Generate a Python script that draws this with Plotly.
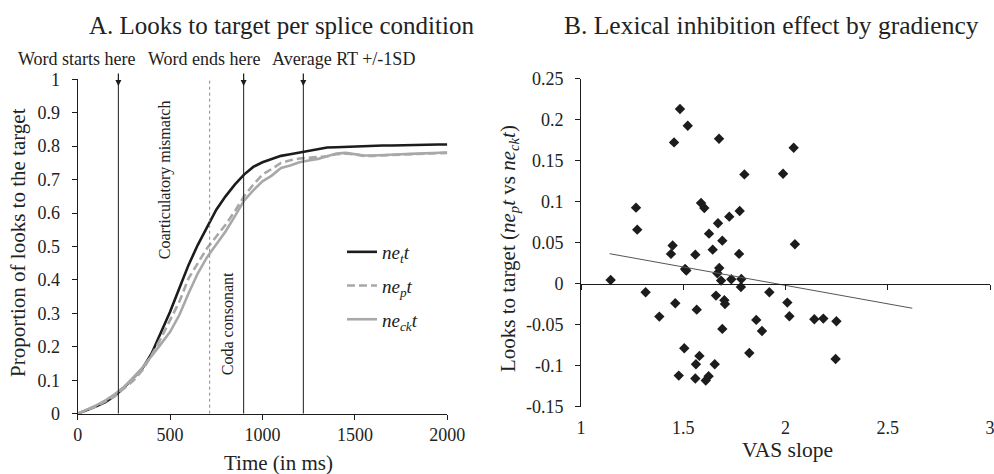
import plotly.graph_objects as go

# ---------------- data: panel A ----------------
time_ms = list(range(0, 2001, 50))
net = [0.000, 0.010, 0.022, 0.035, 0.053, 0.078, 0.105, 0.135, 0.180, 0.240,
       0.305, 0.375, 0.445, 0.505, 0.560, 0.610, 0.650, 0.685, 0.715, 0.738,
       0.752, 0.762, 0.771, 0.776, 0.781, 0.786, 0.792, 0.796, 0.797, 0.798,
       0.799, 0.801, 0.803, 0.802, 0.802, 0.803, 0.803, 0.804, 0.804, 0.805, 0.805]
nep = [0.000, 0.010, 0.022, 0.037, 0.052, 0.075, 0.098, 0.130, 0.175, 0.225,
       0.280, 0.335, 0.405, 0.450, 0.495, 0.530, 0.565, 0.605, 0.650, 0.685,
       0.715, 0.732, 0.750, 0.758, 0.763, 0.765, 0.767, 0.770, 0.776, 0.778,
       0.775, 0.771, 0.771, 0.773, 0.774, 0.775, 0.776, 0.777, 0.778, 0.779, 0.780]
neck = [0.000, 0.012, 0.025, 0.040, 0.058, 0.080, 0.107, 0.138, 0.172, 0.208,
        0.245, 0.295, 0.360, 0.420, 0.468, 0.505, 0.545, 0.590, 0.637, 0.668,
        0.695, 0.712, 0.735, 0.742, 0.752, 0.757, 0.762, 0.770, 0.778, 0.780,
        0.776, 0.772, 0.772, 0.774, 0.775, 0.776, 0.777, 0.778, 0.779, 0.780, 0.781]
series_names = ["<i>ne<sub>t</sub>t</i>", "<i>ne<sub>p</sub>t</i>", "<i>ne<sub>ck</sub>t</i>"]
event_times = [220, 898, 1221]
event_labels = ["Word starts here", "Word ends here", "Average RT +/-1SD"]
coda_onset = 714
left_xticks = [0, 500, 1000, 1500, 2000]
left_yticks = [0, 0.1, 0.2, 0.3, 0.4, 0.5, 0.6, 0.7, 0.8, 0.9, 1]

# ---------------- data: panel B ----------------
vas_slope = [1.484, 1.522, 1.455, 1.675, 2.040, 1.799, 1.988, 1.269, 1.587, 1.603,
             1.776, 1.725, 1.670, 1.275, 1.626, 1.691, 2.046, 1.448, 1.440, 1.559,
             1.644, 1.773, 1.145, 1.509, 1.515, 1.676, 1.667, 1.685, 1.735, 1.784,
             1.782, 1.316, 1.921, 1.660, 1.701, 1.704, 1.461, 2.009, 1.566, 1.383,
             2.019, 1.857, 2.141, 2.185, 2.249, 1.885, 1.691, 1.505, 1.823, 1.579,
             1.562, 1.654, 2.245, 1.478, 1.559, 1.610, 1.624]
looks_effect = [0.2128, 0.1924, 0.1721, 0.1766, 0.1656, 0.1331, 0.1340, 0.0926, 0.0983, 0.0922,
                0.0885, 0.0816, 0.0735, 0.0658, 0.0609, 0.0524, 0.0480, 0.0465, 0.0362, 0.0353,
                0.0414, 0.0362, 0.0045, 0.0179, 0.0160, 0.0191, 0.0126, 0.0037, 0.0053, 0.0057,
                -0.0041, -0.0106, -0.0106, -0.0146, -0.0203, -0.0248, -0.0240, -0.0231, -0.0317, -0.0402,
                -0.0398, -0.0442, -0.0434, -0.0426, -0.0459, -0.0577, -0.0552, -0.0788, -0.0845, -0.0881,
                -0.0982, -0.0982, -0.0918, -0.1121, -0.1157, -0.1181, -0.1129]
trend_x = [1.14, 2.62]
trend_y = [0.0365, -0.030]
right_xticks = [1, 1.5, 2, 2.5, 3]
right_ytick_vals = [-0.15, -0.1, -0.05, 0, 0.05, 0.1, 0.15, 0.2, 0.25]
right_ytick_text = ["-0.15", "-0.1", "-0.05", "0", "0.05", "0.1", "0.15", "0.2", "0.25"]

W, H = 994, 474
def px(x):
    return x / W
def py(y):
    return 1 - y / H

FONT = "Liberation Serif"
TXT = "#222222"
BLACK = "#1c1c1c"
GREY = "#a8a8a8"

fig = go.Figure()

# Panel A curves
fig.add_trace(go.Scatter(x=time_ms, y=net, mode="lines", name=series_names[0],
                         line=dict(color=BLACK, width=2.6), legendgroup="a",
                         xaxis="x", yaxis="y"))
fig.add_trace(go.Scatter(x=time_ms, y=nep, mode="lines", name=series_names[1],
                         line=dict(color=GREY, width=2.6, dash="8px,4px"), legendgroup="b",
                         xaxis="x", yaxis="y"))
fig.add_trace(go.Scatter(x=time_ms, y=neck, mode="lines", name=series_names[2],
                         line=dict(color=GREY, width=2.6), legendgroup="c",
                         xaxis="x", yaxis="y"))

# Panel B scatter + trend
fig.add_trace(go.Scatter(x=vas_slope, y=looks_effect, mode="markers", showlegend=False,
                         marker=dict(symbol="diamond", size=8, color=BLACK),
                         xaxis="x2", yaxis="y2"))
fig.add_trace(go.Scatter(x=trend_x, y=trend_y, mode="lines", showlegend=False,
                         line=dict(color="#555555", width=1),
                         xaxis="x3", yaxis="y2"))

shapes = []
for t in event_times:
    shapes.append(dict(type="line", xref="x", yref="y", x0=t, x1=t, y0=0, y1=1,
                       line=dict(color=BLACK, width=1)))
shapes.append(dict(type="line", xref="x", yref="y", x0=coda_onset, x1=coda_onset, y0=0, y1=1,
                   line=dict(color="#888888", width=1, dash="dot")))

annotations = []
# Titles
annotations.append(dict(text="A. Looks to target per splice condition", xref="paper", yref="paper",
                        x=px(281), y=py(25), showarrow=False, xanchor="center", yanchor="middle",
                        font=dict(family=FONT, size=25, color=TXT)))
annotations.append(dict(text="B. Lexical inhibition effect by gradiency", xref="paper", yref="paper",
                        x=px(771), y=py(25), showarrow=False, xanchor="center", yanchor="middle",
                        font=dict(family=FONT, size=25.5, color=TXT)))
# event label row
label_x = [77, 204, 343]
for lab, lx in zip(event_labels, label_x):
    annotations.append(dict(text=lab, xref="paper", yref="paper", x=px(lx), y=py(59),
                            showarrow=False, xanchor="center", yanchor="middle",
                            font=dict(family=FONT, size=18, color=TXT)))
# arrows
for t in event_times:
    annotations.append(dict(text="", xref="x", yref="y", x=t, y=0.98, ax=0, ay=-14,
                            showarrow=True, arrowhead=2, arrowsize=1, arrowwidth=1.2,
                            arrowcolor=BLACK))
# in-plot texts
annotations.append(dict(text="Coarticulatory mismatch", xref="x", yref="y", x=470, y=0.70,
                        textangle=-90, showarrow=False, xanchor="center", yanchor="middle",
                        font=dict(family=FONT, size=16, color=TXT)))
annotations.append(dict(text="Coda consonant", xref="x", yref="y", x=812, y=0.27,
                        textangle=-90, showarrow=False, xanchor="center", yanchor="middle",
                        font=dict(family=FONT, size=16, color=TXT)))
# axis titles
annotations.append(dict(text="Proportion of looks to the target", xref="paper", yref="paper",
                        x=px(18), y=py(243), textangle=-90, showarrow=False,
                        xanchor="center", yanchor="middle", font=dict(family=FONT, size=21, color=TXT)))
annotations.append(dict(text="Time (in ms)", xref="paper", yref="paper",
                        x=px(278), y=py(463), showarrow=False,
                        xanchor="center", yanchor="middle", font=dict(family=FONT, size=21, color=TXT)))
annotations.append(dict(text="Looks to target (<i>ne<sub>p</sub>t</i> vs <i>ne<sub>ck</sub>t</i>)",
                        xref="paper", yref="paper", x=px(509), y=py(248), textangle=-90,
                        showarrow=False, xanchor="center", yanchor="middle",
                        font=dict(family=FONT, size=21, color=TXT)))
annotations.append(dict(text="VAS slope", xref="paper", yref="paper",
                        x=px(787), y=py(450), showarrow=False,
                        xanchor="center", yanchor="middle", font=dict(family=FONT, size=21.5, color=TXT)))

tickfont = dict(family=FONT, size=18, color=TXT)
yb0, yb1 = py(406.7), py(78.5)
zero_pos = yb0 + (0 - (-0.15)) / 0.4 * (yb1 - yb0)

fig.update_layout(
    width=W, height=H,
    margin=dict(l=0, r=0, t=0, b=0, pad=0, autoexpand=False),
    paper_bgcolor="white", plot_bgcolor="white",
    font=dict(family=FONT, color=TXT),
    showlegend=True,
    legend=dict(x=px(342), y=py(233), xanchor="left", yanchor="top",
                bgcolor="rgba(0,0,0,0)", font=dict(family=FONT, size=19, color=TXT),
                tracegroupgap=6, itemwidth=30),
    xaxis=dict(domain=[px(77.7), px(447.3)], range=[0, 2000], tickvals=left_xticks,
               showline=True, linecolor=BLACK, linewidth=1, ticks="outside", ticklen=5,
               tickcolor=BLACK, showgrid=False, zeroline=False, tickfont=tickfont,
               anchor="y", automargin=False),
    yaxis=dict(domain=[py(413.7), py(79.3)], range=[0, 1], tickvals=left_yticks,
               showline=True, linecolor=BLACK, linewidth=1, ticks="outside", ticklen=5,
               tickcolor=BLACK, showgrid=False, zeroline=False, tickfont=tickfont,
               anchor="x", ticklabelstandoff=8, automargin=False),
    xaxis2=dict(domain=[px(581), px(990)], range=[1, 3], tickvals=right_xticks,
                showline=False, ticks="", showgrid=False, zeroline=False, tickfont=tickfont,
                anchor="y2", ticklabelstandoff=8, automargin=False,
                ticklabeloverflow="allow"),
    xaxis3=dict(domain=[px(581), px(990)], range=[1, 3], tickvals=right_xticks,
                overlaying="x2", anchor="free", position=zero_pos, showline=True,
                linecolor=BLACK, linewidth=1, ticks="outside", ticklen=5, tickcolor=BLACK,
                showticklabels=False, showgrid=False, zeroline=False, automargin=False),
    yaxis2=dict(domain=[yb0, yb1], range=[-0.15, 0.25], tickvals=right_ytick_vals,
                ticktext=right_ytick_text, showline=True, linecolor=BLACK, linewidth=1,
                ticks="outside", ticklen=5, tickcolor=BLACK, showgrid=False, zeroline=False,
                tickfont=tickfont, anchor="x2", ticklabelstandoff=8, automargin=False),
    shapes=shapes,
    annotations=annotations,
)

fig.write_html("out.html")
